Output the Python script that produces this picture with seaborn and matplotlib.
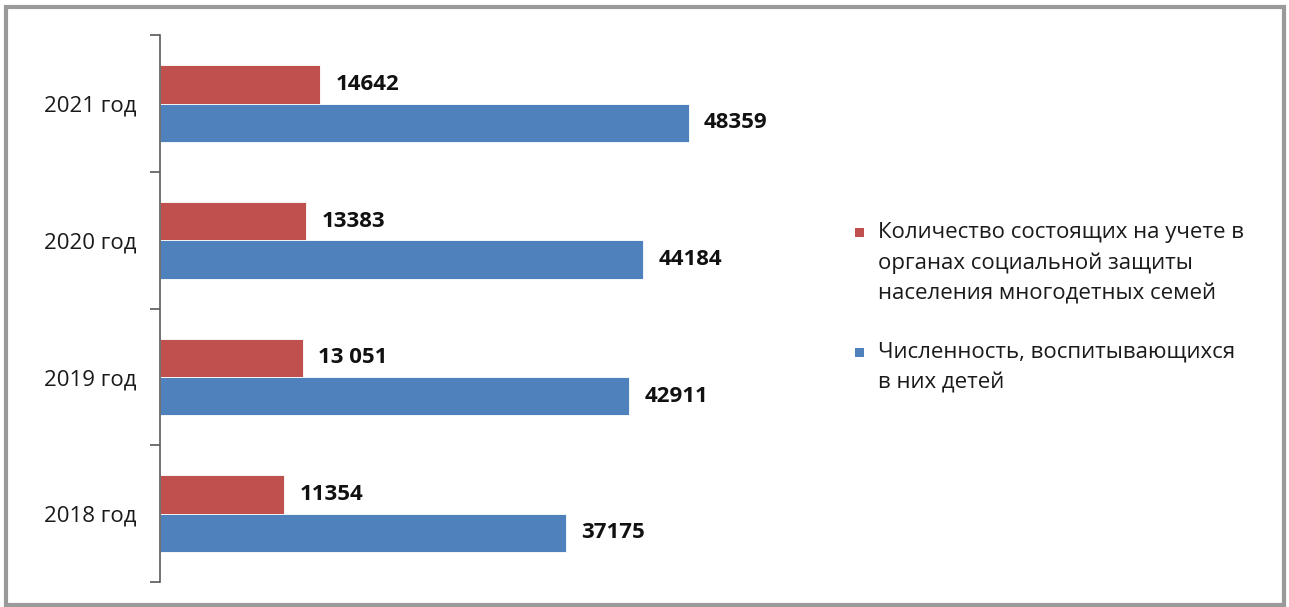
import matplotlib
matplotlib.use("Agg")
import matplotlib.pyplot as plt
from matplotlib.patches import Rectangle
import seaborn as sns
import pandas as pd

years = ["2021 год", "2020 год", "2019 год", "2018 год"]
families = [14642, 13383, 13051, 11354]
children = [48359, 44184, 42911, 37175]
family_labels = ["14642", "13383", "13 051", "11354"]
children_labels = ["48359", "44184", "42911", "37175"]
series_names = [
    "Количество состоящих на учете в\nорганах социальной защиты\nнаселения многодетных семей",
    "Численность, воспитывающихся\nв них детей",
]
colors = ["#C0504D", "#4F81BD"]

sns.set_theme(style="white")
plt.rcParams["font.family"] = ["Open Sans", "DejaVu Sans"]

df = pd.DataFrame({
    "year": years * 2,
    "value": families + children,
    "series": [series_names[0]] * len(years) + [series_names[1]] * len(years),
})

W, H = 1289, 607
fig = plt.figure(figsize=(W / 100, H / 100), dpi=100)
ax = fig.add_axes([0.124, 0.041, 0.509, 0.901])

sns.barplot(data=df, y="year", x="value", hue="series", order=years,
            hue_order=series_names, palette=colors, orient="h",
            width=0.56, saturation=1, ax=ax, legend=False,
            edgecolor="white", linewidth=0.6)

ax.set_xlim(0, 60000)
ax.set_ylim(len(years) - 0.5, -0.5)
ax.set_xlabel("")
ax.set_ylabel("")
ax.set_xticks([])

for s in ["top", "right", "bottom"]:
    ax.spines[s].set_visible(False)
ax.spines["left"].set_color("#595959")
ax.spines["left"].set_linewidth(1.2)

# major ticks at the category boundaries, labels centred on each group
ax.set_yticks([i - 0.5 for i in range(len(years) + 1)])
ax.set_yticklabels([])
ax.set_yticks(range(len(years)), minor=True)
ax.set_yticklabels(years, minor=True, fontsize=16, color="#1a1a1a")
ax.tick_params(axis="y", which="major", length=7, width=1.2, color="#595959", left=True)
ax.tick_params(axis="y", which="minor", length=0, pad=17)

for container, labels in zip(ax.containers, [family_labels, children_labels]):
    ax.bar_label(container, labels=labels, padding=11, fontsize=16,
                 fontweight="bold", color="#111111")

# legend: square key beside the first line of each wrapped entry
line_step = 30.5      # px between wrapped lines
entry_tops = [232, 352]  # px from top, centre of each entry's first line
key_x, text_x, key_size = 855, 878, 9
for name, color, y0 in zip(series_names, colors, entry_tops):
    fig.patches.append(Rectangle((key_x / W, 1 - (y0 + key_size / 2) / H),
                                 key_size / W, key_size / H,
                                 transform=fig.transFigure,
                                 facecolor=color, edgecolor="none"))
    for i, line in enumerate(name.split("\n")):
        y = y0 + i * line_step + 6
        fig.text(text_x / W, 1 - y / H, line, fontsize=16, color="#1a1a1a",
                 ha="left", va="baseline")

fig.patches.append(Rectangle((0.005, 0.004), 0.991, 0.984, transform=fig.transFigure,
                             fill=False, edgecolor="#9a9a9a", linewidth=3))

fig.savefig("out.png", dpi=100)
